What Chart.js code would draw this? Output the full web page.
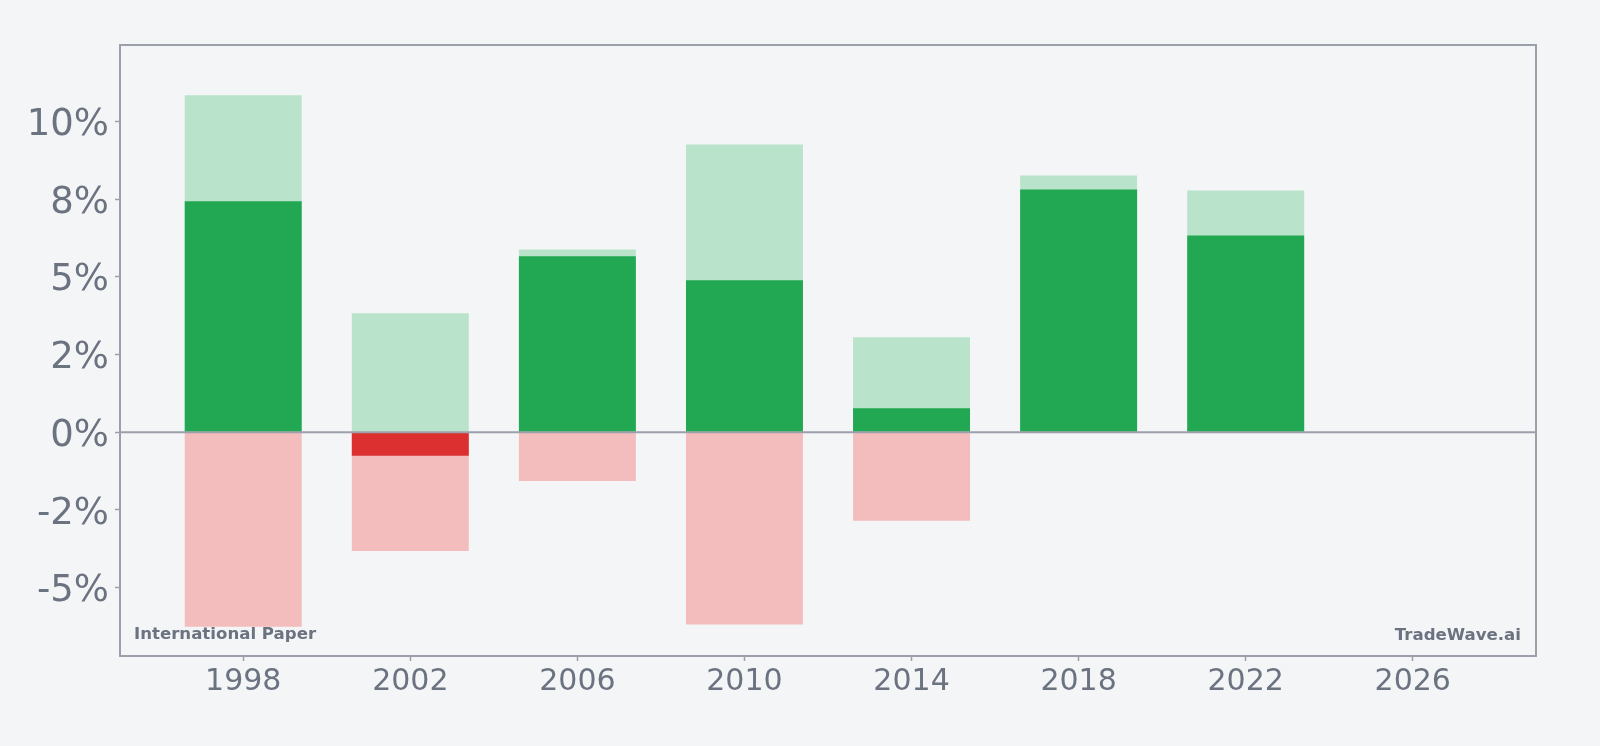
<!DOCTYPE html>
<html>
<head>
<meta charset="utf-8">
<script src="https://cdn.jsdelivr.net/npm/chart.js@4.4.1/dist/chart.umd.min.js"></script>
<style>
  html, body { margin: 0; padding: 0; background: #f4f5f7; }
  #wrap { width: 1600px; height: 746px; }
</style>
</head>
<body>
<div id="wrap"><canvas id="c" width="1600" height="746"></canvas></div>
<script>
// ---- data ----
const years = [1998, 2002, 2006, 2010, 2014, 2018, 2022];
const actualValues = [7.43, -0.76, 5.66, 4.89, 0.77, 7.81, 6.33];
const highValues = [10.84, 3.83, 5.88, 9.26, 3.06, 8.26, 7.78];
const lowValues = [-6.26, -3.82, -1.57, -6.19, -2.85, null, null];
const xTickValues = [1998, 2002, 2006, 2010, 2014, 2018, 2022, 2026];
const yTickValues = [-5, -2.5, 0, 2.5, 5, 7.5, 10];
const yTickLabels = ["-5%", "-2%", "0%", "2%", "5%", "8%", "10%"];
const companyName = "International Paper";
const sourceName = "TradeWave.ai";

// ---- style ----
const COL_BG = '#f4f5f7';
const COL_TEXT = '#6b7280';
const COL_AXIS = '#9ca0aa';
const COL_POS = '#22a753';
const COL_NEG = '#dc3030';
const COL_HIGH = '#b9e3ca';
const COL_LOW = '#f3bdbd';
const FONT = "'DejaVu Sans', sans-serif";

const toPoints = vals => years.map((x, i) => ({ x: x, y: vals[i] }));

const framePlugin = {
  id: 'frame',
  beforeDraw(chart) {
    const c = chart.ctx;
    c.save();
    c.fillStyle = COL_BG;
    c.fillRect(0, 0, chart.width, chart.height);
    c.restore();
  },
  afterDatasetsDraw(chart) {
    const c = chart.ctx;
    const a = chart.chartArea;
    const y0 = chart.scales.y.getPixelForValue(0);
    c.save();
    c.strokeStyle = COL_AXIS;
    c.lineWidth = 2;
    c.beginPath();
    c.moveTo(a.left, y0);
    c.lineTo(a.right, y0);
    c.stroke();
    c.strokeRect(a.left, a.top, a.right - a.left, a.bottom - a.top);
    c.fillStyle = COL_TEXT;
    c.font = "bold 16.6px " + FONT;
    c.textBaseline = 'alphabetic';
    c.textAlign = 'left';
    c.fillText(companyName, a.left + 14, a.bottom - 17);
    c.textAlign = 'right';
    c.fillText(sourceName, a.right - 15, a.bottom - 16);
    c.restore();
  }
};

new Chart(document.getElementById('c'), {
  type: 'bar',
  data: {
    datasets: [
      {
        label: 'actual',
        data: toPoints(actualValues),
        backgroundColor: ctx => (ctx.raw && ctx.raw.y < 0) ? COL_NEG : COL_POS,
        grouped: false,
        categoryPercentage: 1,
        barPercentage: 0.7,
        borderWidth: 0
      },
      {
        label: 'high',
        data: toPoints(highValues),
        backgroundColor: COL_HIGH,
        grouped: false,
        categoryPercentage: 1,
        barPercentage: 0.7,
        borderWidth: 0
      },
      {
        label: 'low',
        data: toPoints(lowValues),
        backgroundColor: COL_LOW,
        grouped: false,
        categoryPercentage: 1,
        barPercentage: 0.7,
        borderWidth: 0
      }
    ]
  },
  options: {
    responsive: false,
    animation: false,
    devicePixelRatio: 1,
    layout: { padding: { top: 45, right: 64, left: 0, bottom: 0 } },
    plugins: { legend: { display: false }, tooltip: { enabled: false } },
    scales: {
      x: {
        type: 'linear',
        min: 1995.05,
        max: 2028.95,
        offset: false,
        afterBuildTicks: s => { s.ticks = xTickValues.map(v => ({ value: v })); },
        afterFit: s => { s.height = 90; },
        ticks: {
          callback: v => String(v),
          color: COL_TEXT,
          font: { family: FONT, size: 30 },
          padding: 3,
          maxRotation: 0,
          autoSkip: false
        },
        grid: { display: true, offset: false, drawOnChartArea: false, drawTicks: true, tickLength: 5, tickColor: COL_AXIS, tickWidth: 1.5 },
        border: { display: false }
      },
      y: {
        type: 'linear',
        min: -7.2,
        max: 12.46,
        afterBuildTicks: s => { s.ticks = yTickValues.map(v => ({ value: v })); },
        afterFit: s => { s.width = 120; },
        ticks: {
          callback: v => { const i = yTickValues.indexOf(v); return i >= 0 ? yTickLabels[i] : ''; },
          color: COL_TEXT,
          font: { family: FONT, size: 37 },
          padding: 6,
          labelOffset: 4,
          autoSkip: false
        },
        grid: { display: true, drawOnChartArea: false, drawTicks: true, tickLength: 5, tickColor: COL_AXIS, tickWidth: 1.5 },
        border: { display: false }
      }
    }
  },
  plugins: [framePlugin]
});
</script>
</body>
</html>
